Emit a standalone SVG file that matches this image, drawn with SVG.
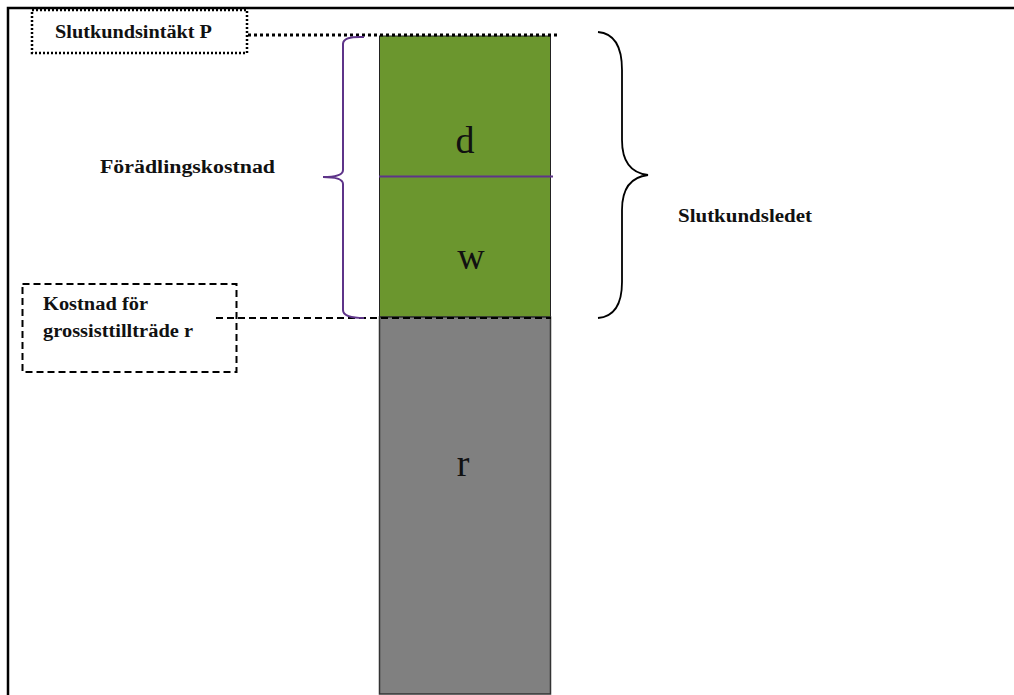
<svg xmlns="http://www.w3.org/2000/svg" width="1014" height="695" viewBox="0 0 1014 695">
<style>
.lbl{font-family:"Liberation Serif",serif;font-weight:bold;font-size:18px;fill:#111}
.big{font-family:"Liberation Serif",serif;font-size:38px;fill:#111;text-anchor:middle}
</style>
<rect x="0" y="0" width="1014" height="695" fill="#fff"/>
<g id="frame"><path d="M8 1020 V8 H1030" fill="none" stroke="#000" stroke-width="2.5"/></g>
<g id="column">
<rect x="379.5" y="36" width="171" height="281" fill="#6B962E" stroke="#222" stroke-width="1"/>
<rect x="379.5" y="317" width="171" height="377" fill="#808080" stroke="#333" stroke-width="1.5"/>
<text class="big" x="465" y="153">d</text>
<text class="big" x="471" y="269">w</text>
<text class="big" x="463" y="476">r</text>
</g>
<g id="connectors">
<line x1="379" y1="176.5" x2="553" y2="176.5" stroke="#5E3489" stroke-width="2"/>
<line x1="248" y1="35" x2="558" y2="35" stroke="#000" stroke-width="3" stroke-dasharray="3,3"/>
<line x1="216" y1="318" x2="551" y2="318" stroke="#000" stroke-width="2" stroke-dasharray="7,4"/>
<path d="M364 37 Q343 36 343 44 V170 Q343 177 323 177 Q343 177 343 184 V310 Q343 318 364 318" fill="none" stroke="#5E3489" stroke-width="2"/>
<path d="M598 32 Q622 34 622 70 V140 Q622 172 648 175 Q622 178 622 210 V282 Q622 316 598 318" fill="none" stroke="#000" stroke-width="1.8"/>
</g>
<g id="node-p">
<rect x="32" y="10" width="215" height="43" fill="none" stroke="#000" stroke-width="2.5" stroke-dasharray="2,2"/>
<text class="lbl" x="55" y="38" textLength="157" lengthAdjust="spacingAndGlyphs">Slutkundsintäkt P</text>
</g>
<g id="node-r">
<rect x="22.5" y="284" width="214" height="88" fill="none" stroke="#000" stroke-width="2" stroke-dasharray="7,4"/>
<text class="lbl" x="43" y="310" textLength="105" lengthAdjust="spacingAndGlyphs">Kostnad för</text>
<text class="lbl" x="43" y="337" textLength="150" lengthAdjust="spacingAndGlyphs">grossisttillträde r</text>
</g>
<g id="node-f"><text class="lbl" x="100" y="173" textLength="175" lengthAdjust="spacingAndGlyphs">Förädlingskostnad</text></g>
<g id="node-s"><text class="lbl" x="678" y="222" textLength="134" lengthAdjust="spacingAndGlyphs">Slutkundsledet</text></g>
</svg>
